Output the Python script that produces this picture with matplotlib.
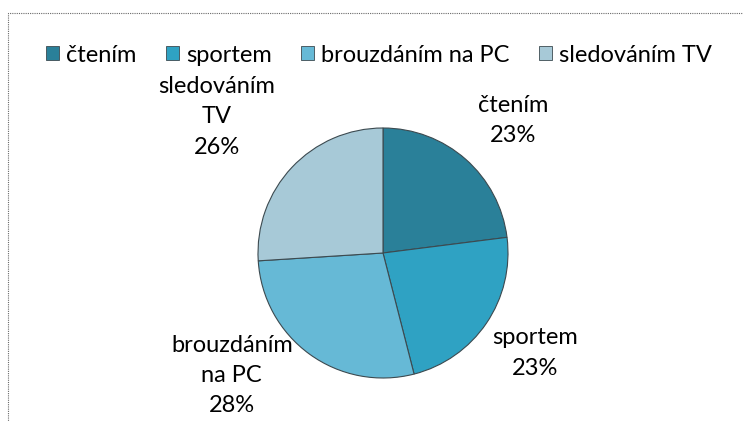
import matplotlib
matplotlib.use('Agg')
import matplotlib.pyplot as plt
from matplotlib.patches import Rectangle

# data
kategorie = ['čtením', 'sportem', 'brouzdáním na PC', 'sledováním TV']
popisky = ['čtením', 'sportem', 'brouzdáním\nna PC', 'sledováním\nTV']
podily = [23, 23, 28, 26]
barvy = ['#2a8099', '#2fa2c3', '#66b9d6', '#a7c9d7']

# label placement (pie units, center = 0,0)
pozice_popisku = [(1.04, 1.06), (1.22, -0.80), (-1.21, -0.98), (-1.33, 1.09)]

plt.rcParams['font.family'] = ['Lato', 'DejaVu Sans']

W, H = 743, 421
fig = plt.figure(figsize=(W / 100, H / 100), dpi=100)

# dotted chart border
fig.patches.append(Rectangle((8 / W, -0.1), 1.0, 1 - 13 / H + 0.1,
                             transform=fig.transFigure, fill=False,
                             edgecolor='#6a6a6a', linestyle=(0, (1, 1)),
                             linewidth=0.8))

cx, cy, r = 383, 253, 125
ax = fig.add_axes([(cx - r) / W, (H - cy - r) / H, 2 * r / W, 2 * r / H])
wedges, _ = ax.pie(podily, colors=barvy, startangle=90, counterclock=False,
                   radius=1.0,
                   wedgeprops=dict(edgecolor='#3c4a50', linewidth=0.8))
ax.set_xlim(-1, 1)
ax.set_ylim(-1, 1)
ax.set_aspect('equal')
ax.axis('off')

for (x, y), txt, p in zip(pozice_popisku, popisky, podily):
    ax.text(x, y, f'{txt}\n{p}%', ha='center', va='center', fontsize=17,
            linespacing=1.55, clip_on=False)

leg = fig.legend(wedges, kategorie, loc='center', ncol=4,
                 bbox_to_anchor=(379 / W, 1 - 55 / H), frameon=False,
                 fontsize=17, handlelength=0.55, handleheight=0.55,
                 handletextpad=0.3, columnspacing=1.25)
for h in leg.legend_handles:
    h.set_edgecolor('#3c4a50')
    h.set_linewidth(0.6)

plt.savefig('out.png', dpi=100)
